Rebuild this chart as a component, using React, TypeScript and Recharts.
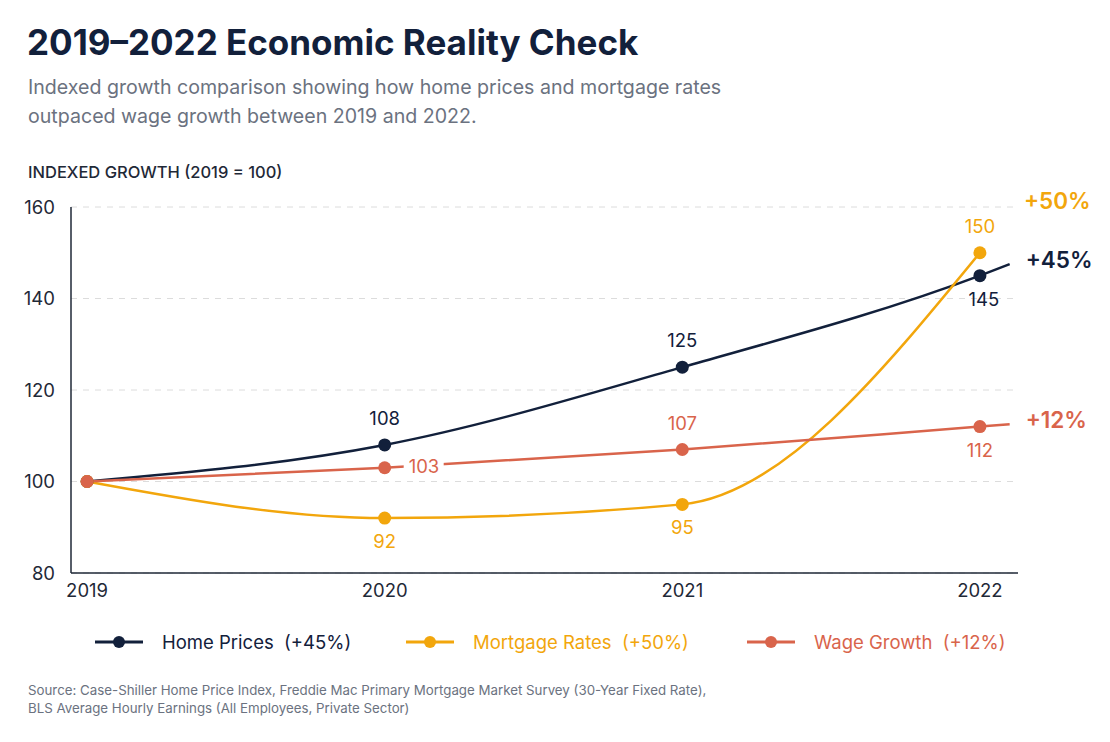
import React from 'react';
import { LineChart, Line, XAxis, YAxis, CartesianGrid } from 'recharts';

const years = [2019, 2020, 2021, 2022];
const homePrices = [100, 108, 125, 145];
const mortgageRates = [100, 92, 95, 150];
const wageGrowth = [100, 103, 107, 112];

// short run-out past 2022 that leads into the end-of-line labels
const tailYear = 2022.1;
const homeTail = 147.5;
const wageTail = 112.5;

const yTicks = [80, 100, 120, 140, 160];

const NAVY = '#12203b';
const AMBER = '#f2a60c';
const CORAL = '#d9644b';
const INK = '#1f2937';
const GREY = '#6b7280';
const FONT = 'Inter, "Noto Sans", sans-serif';

type SeriesKey = 'home' | 'mortgage' | 'wage';
interface Series {
  key: SeriesKey;
  name: string;
  change: string;
  color: string;
  place: string[];
}

const series: Series[] = [
  { key: 'home', name: 'Home Prices', change: '+45%', color: NAVY, place: ['', 'above', 'above', 'below'] },
  { key: 'mortgage', name: 'Mortgage Rates', change: '+50%', color: AMBER, place: ['', 'below', 'below', 'above'] },
  { key: 'wage', name: 'Wage Growth', change: '+12%', color: CORAL, place: ['', 'right', 'above', 'below'] },
];

const data = [
  ...years.map((year, i) => ({
    year,
    home: homePrices[i],
    mortgage: mortgageRates[i],
    wage: wageGrowth[i],
  })),
  { year: tailYear, home: homeTail, wage: wageTail },
];

function endLabel(x: number, y: number, text: string, color: string) {
  return (
    <text x={x} y={y} fill={color} fontSize={22.5} fontWeight={600} fontFamily={FONT} dominantBaseline="middle">
      {text}
    </text>
  );
}

// dot plus value label (and the end label where the line finishes)
function makeDot(s: Series) {
  return (props: any) => {
    const { cx, cy, index, value } = props;
    const k = `${s.key}-${index}`;
    if (cx == null || cy == null) return <g key={k} />;
    if (index >= years.length) {
      return <g key={k}>{endLabel(cx + 16, cy - 2, s.change, s.color)}</g>;
    }
    const place = s.place[index];
    let label = null;
    const txt = { fill: s.color, fontSize: 18.5, fontFamily: FONT, dominantBaseline: 'middle' as const };
    if (place === 'above') {
      label = <text x={cx} y={cy - 25} textAnchor="middle" {...txt}>{value}</text>;
    } else if (place === 'below') {
      label = <text x={cx + (s.key === 'home' ? 4 : 0)} y={cy + 25} textAnchor="middle" {...txt}>{value}</text>;
    } else if (place === 'right') {
      label = (
        <g>
          <rect x={cx + 19} y={cy - 12} width={40} height={24} fill="#ffffff" />
          <text x={cx + 24} y={cy} textAnchor="start" {...txt}>{value}</text>
        </g>
      );
    }
    return (
      <g key={k}>
        <circle cx={cx} cy={cy} r={6.5} fill={s.color} />
        {label}
        {s.key === 'mortgage' && index === years.length - 1 && endLabel(cx + 44, cy - 50, s.change, s.color)}
      </g>
    );
  };
}

function LegendItem({ s, left }: { s: Series; left: number }) {
  return (
    <div style={{ position: 'absolute', left, top: 630, height: 24, display: 'flex', alignItems: 'center' }}>
      <svg width={48} height={16}>
        <line x1={0} y1={8} x2={48} y2={8} stroke={s.color} strokeWidth={3} />
        <circle cx={24} cy={8} r={6} fill={s.color} />
      </svg>
      <span style={{ marginLeft: 19, color: s.color, fontSize: 18.5, whiteSpace: 'pre' }}>
        {`${s.name}  (${s.change})`}
      </span>
    </div>
  );
}

export default function App() {
  return (
    <div
      style={{
        position: 'absolute',
        left: 0,
        top: 0,
        width: 1110,
        height: 742,
        background: '#ffffff',
        fontFamily: FONT,
      }}
    >
      <div style={{ position: 'absolute', left: 27, top: 25, fontSize: 35, lineHeight: 1, fontWeight: 700, color: NAVY }}>
        2019–2022 Economic Reality Check
      </div>
      <div style={{ position: 'absolute', left: 28, top: 73, fontSize: 19.6, lineHeight: '29px', color: GREY }}>
        Indexed growth comparison showing how home prices and mortgage rates
        <br />
        outpaced wage growth between 2019 and 2022.
      </div>
      <div style={{ position: 'absolute', left: 28, top: 162, fontSize: 16.5, lineHeight: '20px', fontWeight: 500, color: INK }}>
        INDEXED GROWTH (2019 = 100)
      </div>

      <div style={{ position: 'absolute', left: 0, top: 0 }}>
        <LineChart width={1110} height={610} data={data} margin={{ top: 207, right: 92, bottom: 0, left: 0 }}>
          <CartesianGrid vertical={false} stroke="#dcdcdc" strokeDasharray="6 6" />
          <XAxis
            dataKey="year"
            type="number"
            domain={[2018.946, 2022.128]}
            ticks={years}
            tickFormatter={(v) => String(v)}
            height={37}
            axisLine={{ stroke: INK, strokeWidth: 1.5 }}
            tickLine={false}
            tickMargin={5}
            tick={{ fill: INK, fontSize: 18.5, fontFamily: FONT }}
          />
          <YAxis
            type="number"
            domain={[80, 160]}
            ticks={yTicks}
            width={71}
            axisLine={{ stroke: INK, strokeWidth: 1.5 }}
            tickLine={false}
            tickMargin={10}
            tick={{ fill: INK, fontSize: 18.5, fontFamily: FONT }}
          />
          {series.map((s) => (
            <Line
              key={s.key}
              type="monotone"
              dataKey={s.key}
              stroke={s.color}
              strokeWidth={2.5}
              dot={makeDot(s)}
              activeDot={false}
              isAnimationActive={false}
            />
          ))}
        </LineChart>
      </div>

      <LegendItem s={series[0]} left={95} />
      <LegendItem s={series[1]} left={406} />
      <LegendItem s={series[2]} left={747} />

      <div style={{ position: 'absolute', left: 28, top: 681, fontSize: 13.3, lineHeight: '18px', color: GREY }}>
        Source: Case-Shiller Home Price Index, Freddie Mac Primary Mortgage Market Survey (30-Year Fixed Rate),
        <br />
        BLS Average Hourly Earnings (All Employees, Private Sector)
      </div>
    </div>
  );
}
